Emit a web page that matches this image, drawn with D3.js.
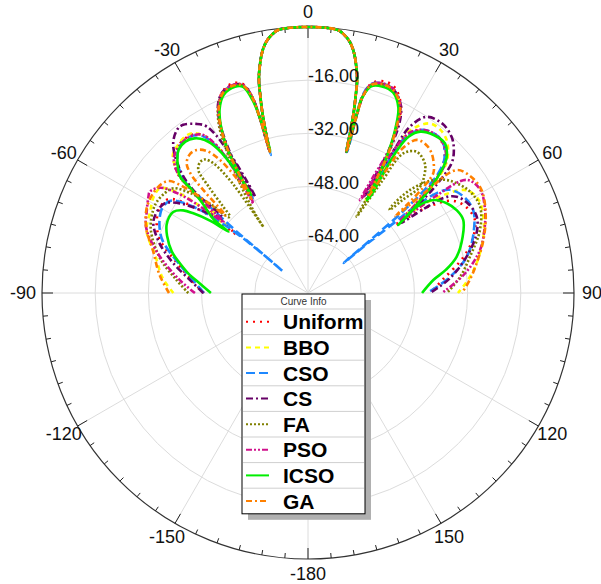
<!DOCTYPE html>
<html>
<head>
<meta charset="utf-8">
<script src="https://cdn.jsdelivr.net/npm/d3@7"></script>
<style>
  body { margin: 0; background: #fff; }
  svg { display: block; font-family: "Liberation Sans", Arial, sans-serif; }
</style>
</head>
<body>
<div id="chart"></div>
<script>
// polar pattern, values are [angle (deg), level (dB)]
const radialTicks = [-16, -32, -48, -64]
const angleLabels = [0, 30, 60, 90, 120, 150, 180, -150, -120, -90, -60, -30]

const mainLobe = [[-15.1, -36], [-14.7, -30], [-14.2, -24], [-13.6, -19], [-13.1, -15], [-12.6, -12.5],
    [-11.9, -9.9], [-11.2, -7.5], [-10.35, -5.2], [-9.3, -3.2], [-8, -1.6], [-6.5, -0.4], [-3.9, -0.05],
    [0, 0], [3.9, -0.05], [6.5, -0.4], [8, -1.6], [9.3, -3.2], [10.35, -5.2], [11.2, -7.5], [11.9, -9.9],
    [12.6, -12.5], [13.1, -15], [13.6, -19], [14.2, -24], [14.7, -30], [15.2, -36]]

const uniformL = [[-90, -48.7], [-84, -45], [-77, -39.5], [-70, -32.5], [-63.7, -29.3], [-59, -28.6], [-56, -29.5],
    [-53.5, -35], [-51.5, -44], [-50.8, -52],
    [-50, -44], [-48.5, -32], [-47.5, -27], [-45, -23], [-41.5, -21], [-37, -20.8], [-34, -22.5], [-32, -27],
    [-30.5, -36], [-30, -46],
    [-30.5, -44], [-29.6, -36], [-29, -30], [-27.5, -23], [-25.5, -17.5], [-23, -14.2], [-20, -13], [-17.5, -14],
    [-16, -18], [-15.4, -25], [-15.3, -33]]
const uniformR = [[15.4, -33], [15.4, -24], [15.6, -18], [17, -14], [20, -12.3], [23, -13], [26.3, -17], [28.2, -23],
    [30, -31], [31, -39], [31.8, -46],
    [32.2, -44], [31.3, -36], [31.3, -28], [32.5, -23], [35.5, -20], [39.5, -19], [43, -20], [46.5, -24], [48.5, -30],
    [51, -40], [52.5, -47],
    [53, -42], [54.5, -35], [57.4, -28.5], [61, -26], [66.4, -25.2], [72, -28], [77, -32], [84, -39], [90, -43.3]]

const bboL = [[-90, -39.5], [-84, -36], [-76, -32.6], [-69, -28], [-62.8, -26.6], [-58, -25.3], [-54.7, -25.5],
    [-52.5, -30], [-51, -40], [-50.5, -48],
    [-49.5, -44], [-48.5, -32], [-47.3, -26.9], [-44.5, -22], [-41.9, -20.9], [-38.5, -20.2], [-36, -20.6],
    [-33.5, -23.5], [-31.5, -30], [-30.3, -38], [-30, -47],
    [-30.5, -45], [-29.8, -37], [-29.2, -30], [-27.7, -23], [-25.7, -17.8], [-23, -14.6], [-20, -13.6],
    [-17.5, -14.5], [-16, -18.5], [-15.4, -25], [-15.2, -34]]
const bboR = [[15.4, -34], [15.4, -25], [15.6, -18.5], [17, -14.5], [20, -13.2], [23, -13.8], [26.3, -17.5],
    [28.2, -24], [30, -32], [31, -40], [31.8, -47],
    [32.5, -45], [31.5, -37], [31.3, -28], [32.5, -21.5], [35.7, -17.2], [39, -16.8], [42.2, -17.9], [45.5, -21],
    [47.3, -24], [49.5, -32], [51.5, -42],
    [52, -40], [53.5, -32], [57, -23.2], [61.5, -21.5], [66.5, -22.5], [72, -24.5], [80, -28.5], [85, -31.5],
    [90, -34.9]]

const csoL = [[-90, -48.7], [-84, -45.5], [-77.7, -40.6], [-69.5, -33], [-62.2, -29.7], [-58.5, -29.3],
    [-55.8, -30.5], [-52.7, -38], [-50.5, -49.5], [-49.4, -60], [-49.3, -70],
    [-49.1, -62], [-49.2, -50], [-48.5, -38], [-47.9, -30.8], [-45, -24.5], [-41.2, -21.4], [-37, -21.1],
    [-34, -23], [-32, -28], [-30.6, -37], [-30.2, -47],
    [-30.6, -45], [-29.8, -37], [-29.2, -30], [-27.6, -23], [-25.6, -17.8], [-23, -14.5], [-20, -13.6],
    [-17.5, -14.5], [-16, -18.5], [-15.4, -25], [-15.1, -37]]
const csoR = [[15.4, -36], [15.3, -24], [15.5, -18], [17, -14.2], [20, -13.1], [23, -13.7], [26.3, -17.5],
    [28.2, -24], [30, -32], [31, -40], [31.8, -47],
    [32.3, -45], [31.5, -37], [31.5, -28], [32.5, -23.5], [35.3, -19.9], [39, -18.8], [42.1, -19.3],
    [45.5, -22.5], [47.5, -27], [48.5, -33], [49.3, -42], [49.6, -52], [49.9, -66],
    [50.3, -56], [50.8, -47], [51, -40], [52.2, -31], [54, -27.2], [58, -25], [63.3, -24.4], [70, -27],
    [77.1, -31], [84, -37.5], [90, -44.2]]

const csL = [[-90, -48.5], [-84, -44.5], [-77, -38], [-71, -32.5], [-65.3, -28.8], [-60.5, -28.5], [-57.9, -29.2],
    [-55, -33], [-52, -40], [-49, -46],
    [-48.3, -45], [-48.1, -33.6], [-45.9, -26.1], [-42, -19.4], [-38.5, -17], [-36.6, -17], [-33.5, -19],
    [-31.3, -21.4], [-29.5, -30], [-28.6, -43.6], [-28.8, -47],
    [-29.3, -35], [-28.5, -28], [-27, -21], [-25.3, -16.8], [-23, -14.3], [-20, -13.5], [-17.5, -14.3],
    [-16, -18], [-15.4, -25], [-15.2, -34]]
const csR = [[15.3, -34], [15.3, -24], [15.6, -18.5], [17, -14.5], [20, -13.2], [23, -13.8], [26.3, -17],
    [28.3, -22], [29.5, -30], [29.9, -40], [29.9, -46.6],
    [30.2, -46], [30.6, -39.4], [31, -30], [31.5, -21.3], [34, -16.1], [38.5, -15], [42.6, -16.2],
    [45.5, -18.5], [47.9, -21.8], [50, -30], [52.4, -43.2],
    [53, -45], [54, -37], [55, -30], [57.1, -26.7], [61, -24.8], [65.7, -24.3], [71, -26.5], [77, -31],
    [84, -37], [90, -43.3]]

const faL = [[-90, -44], [-84, -40], [-76.8, -34.3], [-68, -29], [-62, -27.2], [-58.9, -26.9], [-55, -27.5],
    [-52.1, -28.7], [-49.5, -34], [-47.5, -41], [-46.3, -47],
    [-45.6, -47.2], [-44.5, -43.6], [-43, -36], [-41.7, -30.4], [-39.5, -29], [-37.6, -29.3], [-36, -32],
    [-34.8, -38], [-34.3, -43.7], [-34, -56],
    [-33.8, -52], [-32, -42], [-30, -32], [-28, -23], [-25.7, -17.8], [-23, -14.6], [-20, -13.8],
    [-17.5, -14.6], [-16, -18.5], [-15.4, -25], [-15.2, -34]]
const faR = [[15.3, -34], [15.3, -24], [15.6, -18.5], [17, -14.5], [20, -13.3], [23, -14], [26.3, -17.5],
    [28.2, -24], [30, -33], [31.5, -43], [32.5, -52.8],
    [33, -48], [33.5, -40], [34.3, -29.2], [37.6, -26.4], [42, -27.5], [44.5, -30], [46.5, -33.6],
    [45.5, -40], [44.5, -45],
    [44, -44], [44.7, -36.4], [47.5, -30], [50.5, -26.5], [53.6, -24.4], [58, -22.5], [63.4, -22.1],
    [70, -25], [77.4, -30.1], [84, -34], [90, -38.2]]

const psoL = [[-90, -46], [-84, -41], [-74.7, -32.8], [-68, -27.5], [-63.3, -25.7], [-59, -24], [-57.3, -23.5],
    [-54.5, -25.5], [-52.5, -31], [-51, -40], [-50, -47],
    [-49.5, -45], [-48.5, -33], [-47.3, -26.5], [-44.5, -22.5], [-41.5, -21.3], [-37.5, -21], [-34, -22.5],
    [-32, -27], [-31, -36], [-31.4, -48.4],
    [-31.2, -48], [-30.2, -40], [-29.4, -32], [-27.6, -23], [-25.6, -17.8], [-23, -14.4], [-20, -13.5],
    [-17.5, -14.3], [-16, -18.3], [-15.4, -25], [-15.2, -34]]
const psoR = [[15.3, -34], [15.3, -24], [15.6, -18.3], [17, -14.3], [20, -13], [23, -13.6], [26.3, -17.3],
    [28.2, -23.5], [29.5, -31], [29.3, -40], [29.2, -48],
    [29.8, -46], [30.4, -38], [31.2, -28], [32.6, -22.5], [35.5, -19.8], [39.5, -18.8], [43, -19.8],
    [46.5, -23], [48.5, -29], [50.5, -38], [52, -45],
    [52.3, -42], [52.8, -32], [54.5, -21.4], [59, -19.6], [64.9, -21.2], [70, -23.5], [76, -26.7],
    [83, -32.5], [90, -39.7]]

const icsoL = [[-90, -50.8], [-84, -46.5], [-81.3, -44], [-77, -40.5], [-73.1, -37.2], [-68, -34.3],
    [-64.3, -32.8], [-61.5, -32.4], [-58.9, -32.7], [-56.5, -35], [-55.2, -38], [-53.5, -43.5], [-52.4, -49.8],
    [-52, -44], [-49.5, -38], [-48.3, -33], [-47.7, -28], [-45, -24.5], [-42.2, -22], [-39, -21.4],
    [-36.3, -22.3], [-34, -24.5], [-32, -29], [-30.6, -37], [-30, -46],
    [-30.5, -44], [-29.8, -37], [-29.2, -30], [-27.6, -23.5], [-25.6, -18.5], [-23, -15.2], [-19.5, -14.2],
    [-17.5, -15], [-16, -19.8], [-15.5, -23.8], [-14.9, -35.5]]
const icsoR = [[15.3, -35], [15.2, -24], [15.5, -19], [17, -15], [19.7, -14], [23, -14.5], [26, -18],
    [28.1, -24.4], [30, -32.7], [31.3, -40.2], [32.3, -46.9],
    [32.8, -45], [32.2, -37], [32, -29], [32.8, -24], [34.8, -20.9], [38.5, -19.3], [42.5, -19],
    [45.5, -21.5], [47, -24.3], [49.5, -32], [51.5, -40], [53, -46],
    [52.3, -43], [51.6, -38.3], [53.5, -33], [57.1, -30.3], [61, -28.8], [64.8, -28.4], [70, -30.5],
    [76.3, -34], [80.5, -38], [84.1, -42.1], [90, -45.7]]

const gaL = [[-90, -38.2], [-83, -35], [-75, -31.8], [-68, -27.5], [-62.3, -25.2], [-57, -24.6], [-53, -25.2],
    [-51, -26.5], [-49.3, -32], [-47.8, -40], [-46.8, -46],
    [-46.3, -44], [-45.5, -36], [-44.5, -29.5], [-43.1, -26.6], [-40.5, -25.2], [-37.9, -25.5], [-35.5, -27.5],
    [-33.5, -32], [-31.8, -40], [-31, -47],
    [-30.8, -46], [-30, -38], [-29.3, -31], [-27.7, -23.5], [-25.6, -17.9], [-23, -14.6], [-20, -13.7],
    [-17.5, -14.5], [-16, -18.5], [-15.4, -25], [-15.2, -34]]
const gaR = [[15.3, -34], [15.3, -24], [15.6, -18.5], [17, -14.5], [20, -13.3], [23, -13.9], [26.3, -17.5],
    [28.2, -24], [30, -32], [31, -40], [31.8, -46],
    [32.3, -44], [32.5, -36], [33.2, -28], [35.4, -23.5], [38.5, -23], [41.5, -23.9], [44.5, -26],
    [46.3, -27.9], [47.5, -33], [48.3, -40], [48.7, -45],
    [49, -42], [49.3, -34], [50.4, -22], [54.5, -19.8], [59.3, -19.3], [66, -21.5], [73.2, -24.9],
    [80, -28.5], [85, -31], [90, -33.7]]

const seriesNames = ["Uniform", "BBO", "CSO", "CS", "FA", "PSO", "ICSO", "GA"]
const seriesColors = ["#ff0000", "#ffff00", "#1e88ff", "#660066", "#808000", "#d0108c", "#00ee00", "#ff8000"]
const seriesDashes = ["2,5", "5,4", "9,4", "7,3,2,3", "2,2", "6,2,2,2,2,2", null, "6,3,2,3"]
const seriesData = [
    [uniformL, uniformR], [bboL, bboR], [csoL, csoR], [csL, csR],
    [faL, faR], [psoL, psoR], [icsoL, icsoR], [gaL, gaR]
]

const width = 601, height = 584
const cx = 308, cy = 293, R = 266

const svg = d3.select("#chart").append("svg")
    .attr("width", width)
    .attr("height", height)

const g = svg.append("g").attr("transform", "translate(" + cx + "," + cy + ")")

const r = d3.scaleLinear().domain([-80, 0]).range([0, R])
const a = d3.scaleLinear().domain([-180, 180]).range([-Math.PI, Math.PI])

// grid
g.selectAll(".ring")
    .data(radialTicks)
    .enter().append("circle")
    .attr("r", d => r(d))
    .attr("fill", "none")
    .attr("stroke", "#dcdcdc")
    .attr("stroke-width", 1)

g.selectAll(".spoke")
    .data(d3.range(0, 360, 30))
    .enter().append("line")
    .attr("x1", 0).attr("y1", 0)
    .attr("x2", d => R * Math.sin(a(d)))
    .attr("y2", d => -R * Math.cos(a(d)))
    .attr("stroke", "#dcdcdc")
    .attr("stroke-width", 1)

// outer circle + ticks
g.append("circle")
    .attr("r", R)
    .attr("fill", "none")
    .attr("stroke", "#333")
    .attr("stroke-width", 1.2)

g.selectAll(".tick")
    .data(d3.range(0, 360, 5))
    .enter().append("line")
    .attr("x1", d => R * Math.sin(a(d)))
    .attr("y1", d => -R * Math.cos(a(d)))
    .attr("x2", d => (R - (d % 30 === 0 ? 11 : 5)) * Math.sin(a(d)))
    .attr("y2", d => -(R - (d % 30 === 0 ? 11 : 5)) * Math.cos(a(d)))
    .attr("stroke", "#222")
    .attr("stroke-width", 1)

// curves
const radial = d3.lineRadial()
    .angle(d => a(d[0]))
    .radius(d => r(Math.max(-80, d[1])))
    .curve(d3.curveCatmullRom.alpha(0.5))

seriesData.forEach((s, i) => {
    const pts = [...s[0], ...mainLobe, ...s[1]]
    g.append("path")
        .datum(pts)
        .attr("d", radial)
        .attr("fill", "none")
        .attr("stroke", seriesColors[i])
        .attr("stroke-width", 2.6)
        .attr("stroke-dasharray", seriesDashes[i])
})

// angle labels
g.selectAll(".alabel")
    .data(angleLabels)
    .enter().append("text")
    .attr("x", d => {
        if (d === 90) return R + 8
        if (d === -90) return -R - 6
        return (R + 16) * Math.sin(a(d))
    })
    .attr("y", d => -(R + 15) * Math.cos(a(d)))
    .attr("dy", "0.36em")
    .attr("text-anchor", d => d === 90 ? "start" : d === -90 ? "end" : "middle")
    .attr("font-size", 18)
    .attr("fill", "#111")
    .text(d => d === 180 ? "-180" : d)

// radial labels
g.selectAll(".rlabel")
    .data(radialTicks)
    .enter().append("text")
    .attr("x", 0)
    .attr("y", d => -r(d) + 2)
    .attr("font-size", 18)
    .attr("fill", "#111")
    .text(d => d.toFixed(2))

// legend
const lx = 242, ly = 294, lw = 123, titleH = 15, rowH = 25.6
const lh = titleH + rowH * seriesNames.length
const legend = svg.append("g")

legend.append("rect")
    .attr("x", lx + 6).attr("y", ly + 6)
    .attr("width", lw).attr("height", lh)
    .attr("fill", "#b0b0b0")
legend.append("rect")
    .attr("x", lx).attr("y", ly)
    .attr("width", lw).attr("height", lh)
    .attr("fill", "#fff")
    .attr("stroke", "#000")
    .attr("stroke-width", 1)
legend.append("text")
    .attr("x", lx + lw / 2).attr("y", ly + 11)
    .attr("text-anchor", "middle")
    .attr("font-size", 10)
    .attr("fill", "#333")
    .text("Curve Info")

seriesNames.forEach((name, i) => {
    const y0 = ly + titleH + i * rowH
    legend.append("line")
        .attr("x1", lx + 1).attr("x2", lx + lw - 1)
        .attr("y1", y0).attr("y2", y0)
        .attr("stroke", "#cfcfcf")
    legend.append("line")
        .attr("x1", lx + 4).attr("x2", lx + 27)
        .attr("y1", y0 + rowH / 2).attr("y2", y0 + rowH / 2)
        .attr("stroke", seriesColors[i])
        .attr("stroke-width", 2)
        .attr("stroke-dasharray", seriesDashes[i])
    legend.append("text")
        .attr("x", lx + 41).attr("y", y0 + rowH / 2)
        .attr("dy", "0.36em")
        .attr("font-size", 21)
        .attr("font-weight", "bold")
        .attr("fill", "#000")
        .text(name)
})
</script>
</body>
</html>
